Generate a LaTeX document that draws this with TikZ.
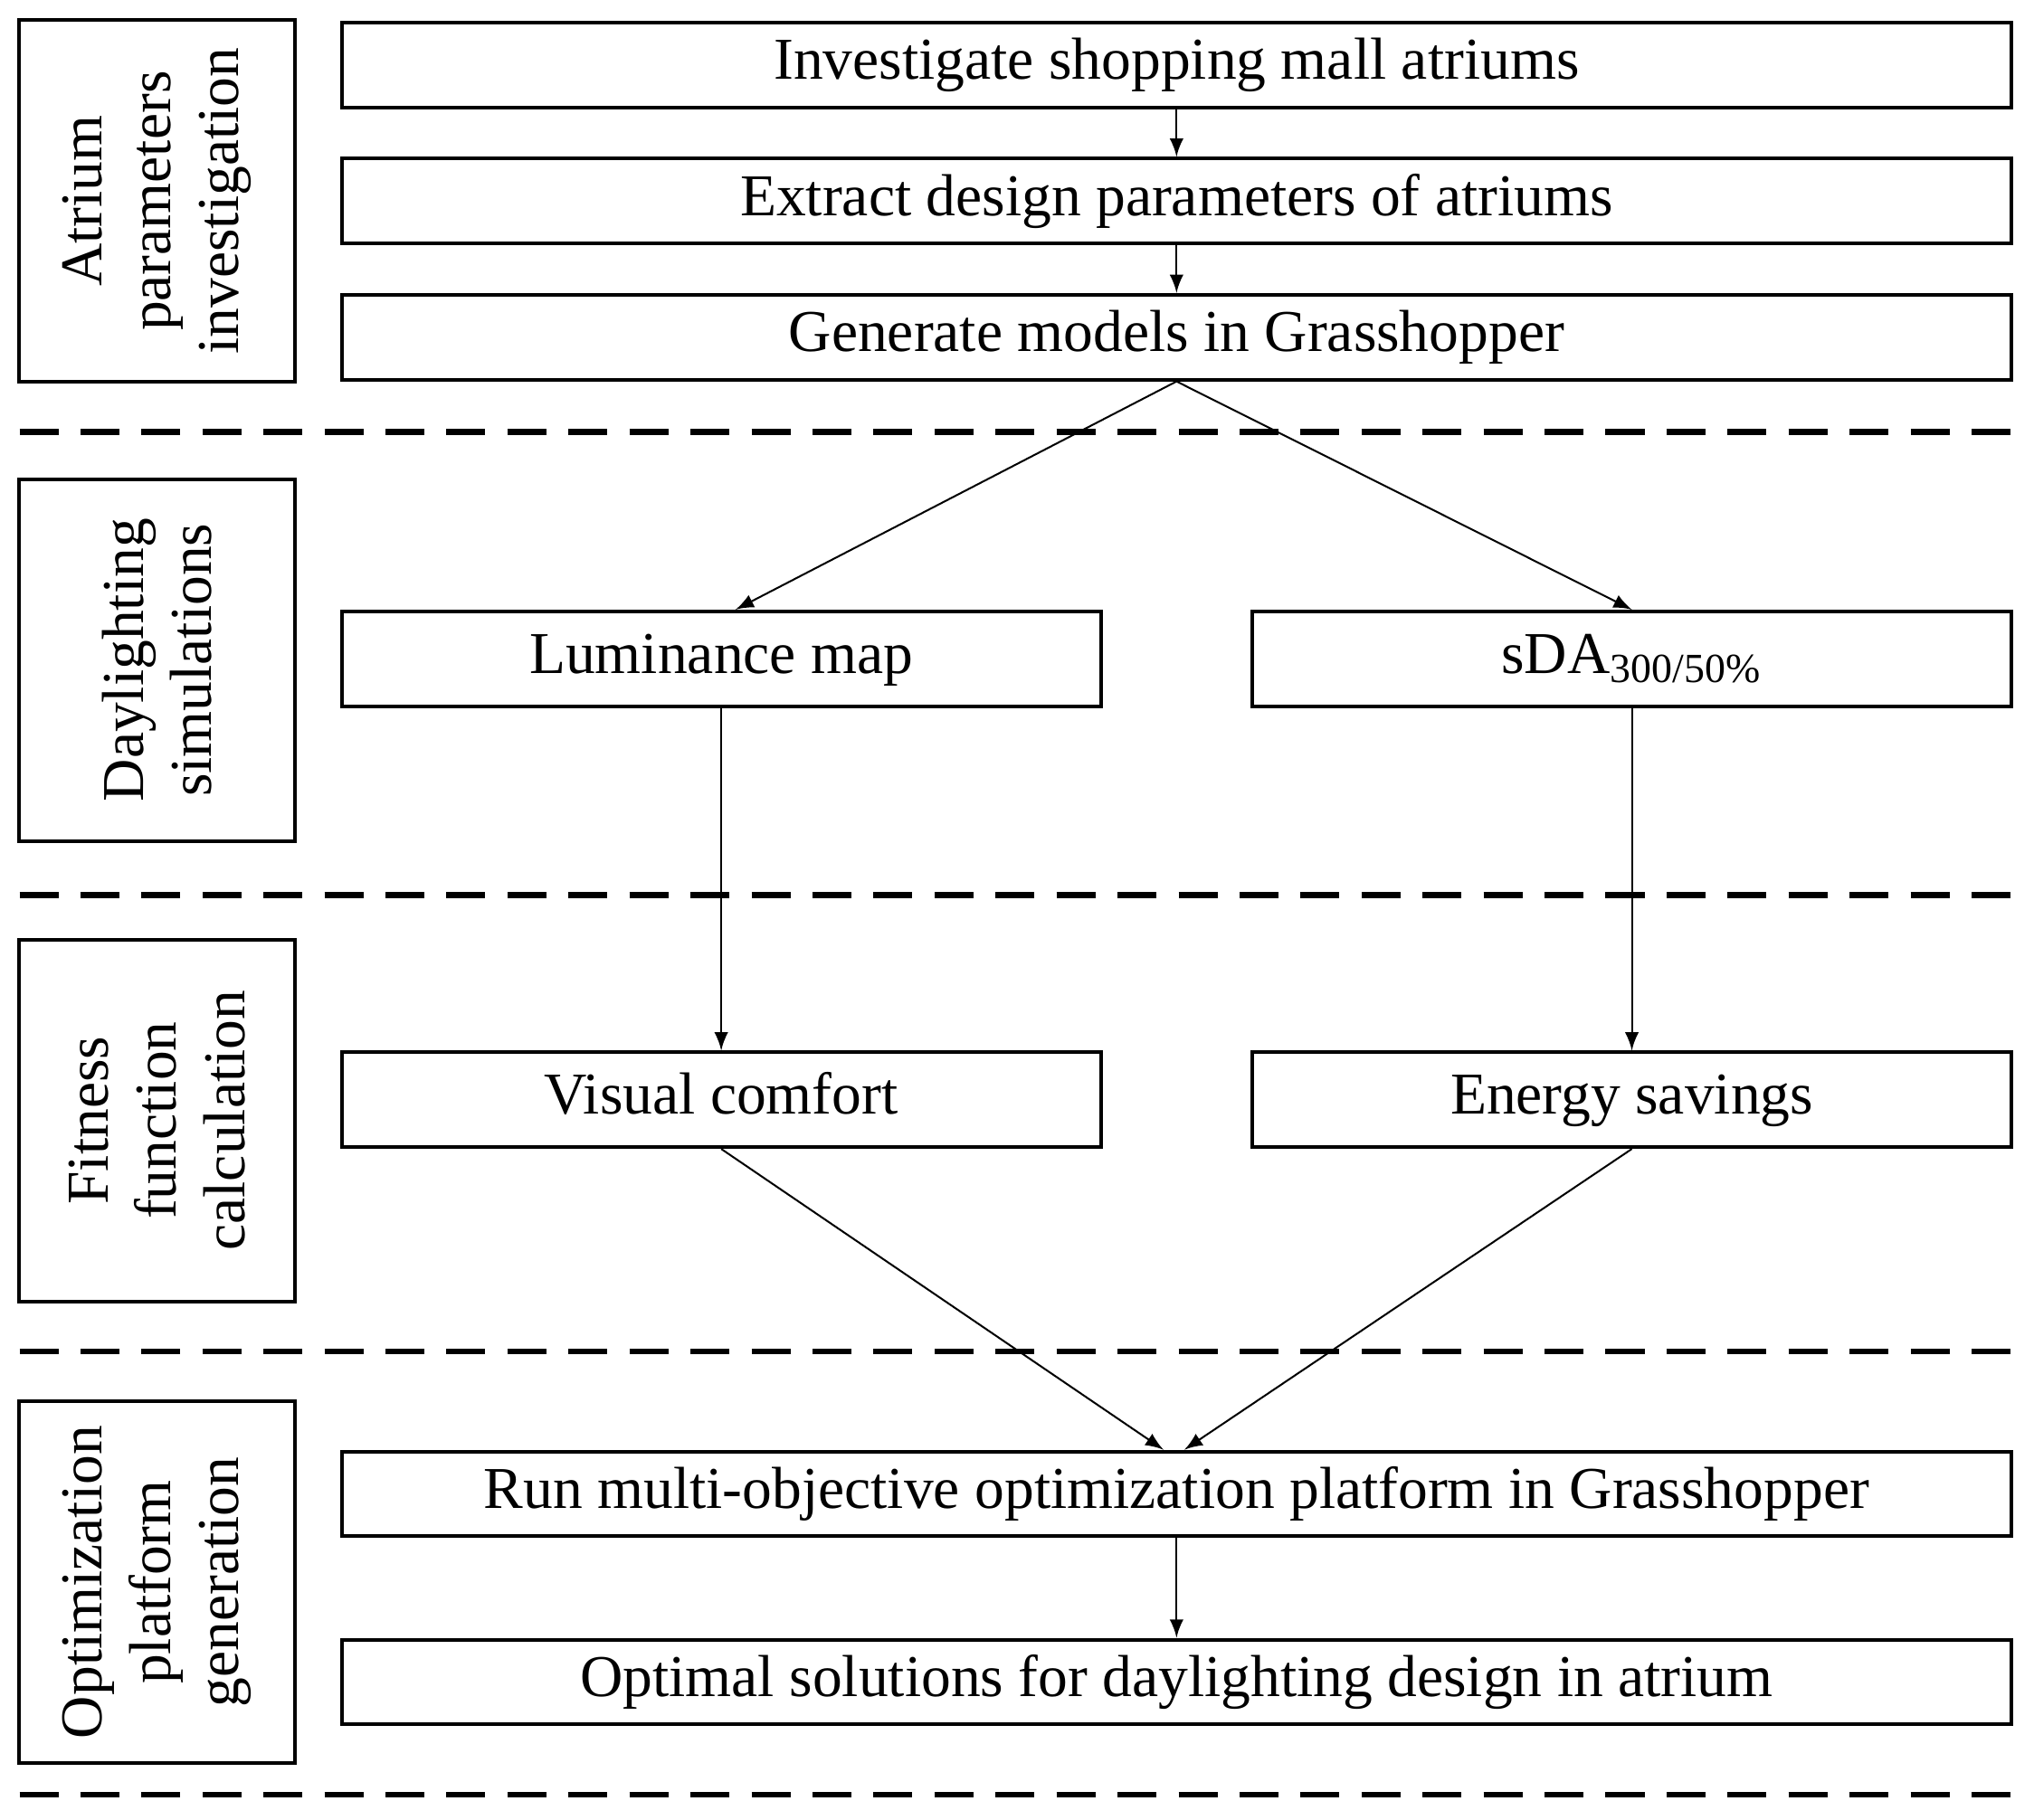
\documentclass[tikz,border=0pt]{standalone}
\usepackage{fontspec}
\setmainfont{Liberation Serif}
\begin{document}
\begin{tikzpicture}
		[x=0.01cm,y=-0.01cm,font=\fontsize{13}{15}\selectfont,
		 stage/.style={draw,thick,minimum width=2.79cm,minimum height=2.12cm,align=center,rotate=90},
		 wide/.style={draw,thick,minimum width=12.86cm,minimum height=0.65cm,text height=2ex,text depth=0.6ex},
		 half/.style={draw,thick,minimum width=5.85cm,minimum height=0.73cm,text height=2ex,text depth=0.6ex},
		 sep/.style={line width=1.3pt,dash pattern=on 0.3cm off 0.17cm},
		 >=latex]
		\useasboundingbox (0,0) rectangle (1568,1403);
		\node[stage,name=s1]at(121,155){Atrium\\parameters\\investigation};
		\node[stage,name=s2]at(121,509){Daylighting\\simulations};
		\node[stage,name=s3]at(121,864){Fitness\\function\\calculation};
		\node[stage,name=s4]at(121,1220){Optimization\\platform\\generation};
		\node[wide,name=a1]at(907,50){Investigate shopping mall atriums};
		\node[wide,name=a2]at(907,155){Extract design parameters of atriums};
		\node[wide,name=a3]at(907,260){Generate models in Grasshopper};
		\node[half,name=lum]at(556,508){Luminance map};
		\node[half,name=sda]at(1258,508){sDA\textsubscript{300/50\%}};
		\node[half,name=vis]at(556,848){Visual comfort};
		\node[half,name=ene]at(1258,848){Energy savings};
		\node[wide,name=run]at(907,1152){Run multi-objective optimization platform in Grasshopper};
		\node[wide,name=opt]at(907,1297){Optimal solutions for daylighting design in atrium};
		\draw[sep] (15,333) -- (1550,333);
		\draw[sep] (15,690) -- (1550,690);
		\draw[sep] (15,1042) -- (1550,1042);
		\draw[sep] (15,1384) -- (1550,1384);
		\draw[->] (a1) -- (a2);
		\draw[->] (a2) -- (a3);
		\draw[->] (a3.south) -- ([xshift=0.11cm]lum.north);
		\draw[->] (a3.south) -- (sda.north);
		\draw[->] (lum) -- (vis);
		\draw[->] (sda) -- (ene);
		\draw[->] (vis.south) -- ([xshift=-0.1cm]run.north);
		\draw[->] (ene.south) -- ([xshift=0.06cm]run.north);
		\draw[->] (run) -- (opt);
	\end{tikzpicture}
\end{document}
